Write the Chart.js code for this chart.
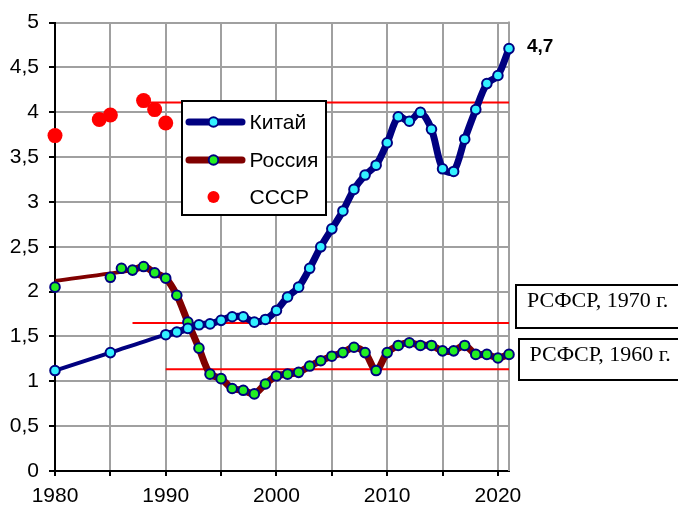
<!DOCTYPE html>
<html>
<head>
<meta charset="utf-8">
<script src="https://cdn.jsdelivr.net/npm/chart.js@4.4.1/dist/chart.umd.min.js"></script>
<style>
  body { margin: 0; background: #fff; }
</style>
</head>
<body>
<canvas id="chartTfr" width="678" height="506"></canvas>
<script>
// --- data ---
var chinaYears = [1980, 1985, 1990, 1991, 1992, 1993, 1994, 1995, 1996, 1997, 1998, 1999, 2000, 2001, 2002, 2003, 2004, 2005, 2006, 2007, 2008, 2009, 2010, 2011, 2012, 2013, 2014, 2015, 2016, 2017, 2018, 2019, 2020, 2021];
var chinaValues = [1.12, 1.32, 1.52, 1.55, 1.59, 1.63, 1.64, 1.68, 1.72, 1.72, 1.66, 1.69, 1.79, 1.94, 2.05, 2.26, 2.50, 2.70, 2.90, 3.14, 3.30, 3.41, 3.66, 3.95, 3.90, 4.00, 3.81, 3.37, 3.34, 3.70, 4.03, 4.32, 4.41, 4.71];

var russiaYears = [1980, 1985, 1986, 1987, 1988, 1989, 1990, 1991, 1992, 1993, 1994, 1995, 1996, 1997, 1998, 1999, 2000, 2001, 2002, 2003, 2004, 2005, 2006, 2007, 2008, 2009, 2010, 2011, 2012, 2013, 2014, 2015, 2016, 2017, 2018, 2019, 2020, 2021];
var russiaValues = [2.05, 2.16, 2.26, 2.24, 2.28, 2.21, 2.15, 1.96, 1.66, 1.37, 1.08, 1.03, 0.92, 0.90, 0.86, 0.97, 1.06, 1.08, 1.10, 1.17, 1.23, 1.28, 1.32, 1.38, 1.32, 1.12, 1.32, 1.40, 1.43, 1.40, 1.40, 1.34, 1.34, 1.40, 1.30, 1.30, 1.26, 1.30];

// the russian line does not go through the first three markers
var russiaLineYears = [1980, 1987, 1988, 1989, 1990, 1991, 1992, 1993, 1994, 1995, 1996, 1997, 1998, 1999, 2000, 2001, 2002, 2003, 2004, 2005, 2006, 2007, 2008, 2009, 2010, 2011, 2012, 2013, 2014, 2015, 2016, 2017, 2018, 2019, 2020, 2021];
var russiaLineValues = [2.12, 2.24, 2.28, 2.21, 2.15, 1.96, 1.66, 1.37, 1.08, 1.03, 0.92, 0.90, 0.86, 0.97, 1.06, 1.08, 1.10, 1.17, 1.23, 1.28, 1.32, 1.38, 1.32, 1.12, 1.32, 1.40, 1.43, 1.40, 1.40, 1.34, 1.34, 1.40, 1.30, 1.30, 1.26, 1.30];

var ussrYears = [1980, 1984, 1985, 1988, 1989, 1990];
var ussrValues = [3.74, 3.92, 3.97, 4.13, 4.03, 3.88];

// horizontal reference levels (red lines)
var refLevels = [4.11, 1.65, 1.135];
var refStartYears = [1988, 1987, 1990];
var refEndYear = 2021;

var seriesNames = ['Китай', 'Россия', 'СССР'];
var refLabels = ['РСФСР, 1970 г.', 'РСФСР, 1960 г.'];
var lastLabel = '4,7';

function toPoints(xs, ys) {
    return xs.map(function (x, i) { return { x: x, y: ys[i] }; });
}

var NAVY = '#000080';
var MAROON = '#800000';
var CYAN = '#33f0ff';
var GREEN = '#22ee22';
var RED = '#ff0000';
var FONT = 'Arial, "Liberation Sans", sans-serif';

// thin segment where years are missing, thick where annual
var segWidth = function (ctx) {
    return (ctx.p1.parsed.x - ctx.p0.parsed.x > 1) ? 4 : 7;
};

var datasets = [
    {
        label: seriesNames[0],
        data: toPoints(chinaYears, chinaValues),
        showLine: true,
        borderColor: NAVY,
        borderWidth: 7,
        segment: { borderWidth: segWidth },
        tension: 0.3,
        pointRadius: 4.8,
        pointBorderWidth: 2,
        pointBackgroundColor: CYAN,
        pointBorderColor: NAVY,
        clip: false
    },
    {
        label: seriesNames[1],
        data: toPoints(russiaYears, russiaValues),
        showLine: false,
        pointRadius: 4.8,
        pointBorderWidth: 2,
        pointBackgroundColor: GREEN,
        pointBorderColor: NAVY,
        clip: false
    },
    {
        label: seriesNames[1] + ' line',
        data: toPoints(russiaLineYears, russiaLineValues),
        showLine: true,
        borderColor: MAROON,
        borderWidth: 7,
        segment: { borderWidth: segWidth },
        tension: 0.3,
        pointRadius: 0,
        clip: false
    },
    {
        label: seriesNames[2],
        data: toPoints(ussrYears, ussrValues),
        showLine: false,
        pointRadius: 7.5,
        pointBorderWidth: 0,
        pointBackgroundColor: RED,
        pointBorderColor: RED,
        clip: false
    }
];

refLevels.forEach(function (lvl, i) {
    datasets.push({
        label: 'ref' + i,
        data: toPoints([refStartYears[i], refEndYear], [lvl, lvl]),
        showLine: true,
        borderColor: RED,
        borderWidth: 2,
        pointRadius: 0,
        clip: false
    });
});

// legend, boxes, right border and the last-value label
var overlay = {
    id: 'overlay',
    beforeDatasetsDraw: function (chart) {
        var c = chart.ctx, a = chart.chartArea;
        c.save();
        c.strokeStyle = '#a0a0a0';
        c.lineWidth = 2;
        c.beginPath();
        c.moveTo(a.right, a.top - 1);
        c.lineTo(a.right, a.bottom);
        c.stroke();
        c.restore();
    },
    afterDatasetsDraw: function (chart) {
        var c = chart.ctx;
        c.save();

        // legend
        c.fillStyle = '#fff';
        c.fillRect(182, 101, 144, 114);
        c.strokeStyle = '#000';
        c.lineWidth = 2;
        c.strokeRect(182, 101, 144, 114);

        var rowY = [122, 160, 197];
        var lineCols = [NAVY, MAROON, null];
        var fillCols = [CYAN, GREEN, RED];
        c.lineCap = 'round';
        for (var i = 0; i < 3; i++) {
            var y = rowY[i];
            if (lineCols[i]) {
                c.strokeStyle = lineCols[i];
                c.lineWidth = 7;
                c.beginPath();
                c.moveTo(189, y);
                c.lineTo(242, y);
                c.stroke();
                c.beginPath();
                c.arc(213.5, y, 4.8, 0, Math.PI * 2);
                c.fillStyle = fillCols[i];
                c.fill();
                c.lineWidth = 2;
                c.strokeStyle = NAVY;
                c.stroke();
            } else {
                c.beginPath();
                c.arc(213.5, y, 6, 0, Math.PI * 2);
                c.fillStyle = fillCols[i];
                c.fill();
            }
            c.fillStyle = '#000';
            c.font = '21px ' + FONT;
            c.textBaseline = 'middle';
            c.textAlign = 'left';
            c.fillText(seriesNames[i], 249.5, y + 1);
        }

        // РСФСР boxes
        c.lineCap = 'butt';
        c.strokeStyle = '#000';
        c.lineWidth = 2;
        c.fillStyle = '#fff';
        c.fillRect(516, 285, 170, 43);
        c.strokeRect(516, 285, 170, 43);
        c.fillRect(519, 339, 170, 41);
        c.strokeRect(519, 339, 170, 41);
        c.fillStyle = '#000';
        c.font = '22px "Times New Roman", "Liberation Serif", serif';
        c.textBaseline = 'alphabetic';
        c.fillText(refLabels[0], 527, 307);
        c.fillText(refLabels[1], 529.5, 361);

        // last value
        c.font = 'bold 19px ' + FONT;
        c.textBaseline = 'middle';
        c.fillText(lastLabel, 527, 47);

        c.restore();
    }
};

var ctxTfr = document.getElementById('chartTfr').getContext('2d');
var chartTfr = new Chart(ctxTfr, {
    type: 'scatter',
    data: { datasets: datasets },
    options: {
        responsive: false,
        animation: false,
        layout: { padding: { left: 0, right: 169, top: 19, bottom: 0 } },
        plugins: {
            legend: { display: false },
            tooltip: { enabled: false }
        },
        scales: {
            x: {
                type: 'linear',
                min: 1980,
                max: 2021,
                afterFit: function (s) { s.height = 35; },
                border: { color: '#000', width: 2 },
                grid: { color: '#a0a0a0', lineWidth: 2, tickColor: '#000', tickLength: 5 },
                ticks: {
                    stepSize: 5,
                    includeBounds: false,
                    autoSkip: false,
                    maxRotation: 0,
                    padding: 8,
                    color: '#000',
                    font: { family: FONT, size: 21 },
                    callback: function (v) { return v % 10 === 0 ? String(v) : ''; }
                }
            },
            y: {
                min: 0,
                max: 5,
                afterFit: function (s) { s.width = 55; },
                border: { color: '#000', width: 2 },
                grid: { color: '#a0a0a0', lineWidth: 2, tickColor: '#000', tickLength: 6 },
                ticks: {
                    stepSize: 0.5,
                    padding: 10,
                    color: '#000',
                    font: { family: FONT, size: 21 },
                    callback: function (v) { return String(v).replace('.', ','); }
                }
            }
        }
    },
    plugins: [overlay]
});
</script>
</body>
</html>
